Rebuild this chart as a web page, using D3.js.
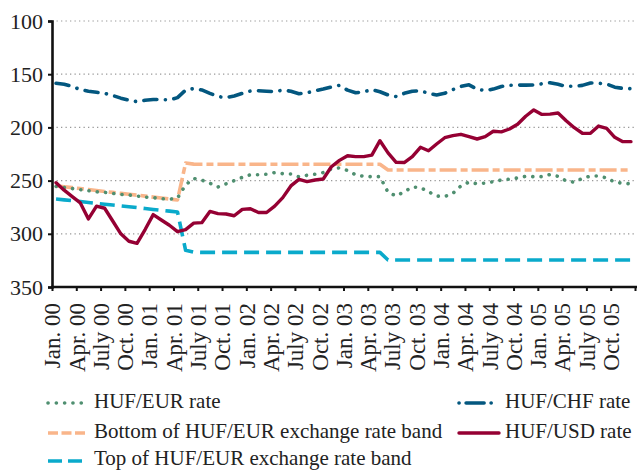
<!DOCTYPE html>
<html>
<head>
<meta charset="utf-8">
<script src="https://cdn.jsdelivr.net/npm/d3@7"></script>
<style>
  html, body { margin: 0; padding: 0; background: #fff; }
  svg { display: block; }
  text { font-family: "Liberation Serif", "Times New Roman", serif; fill: #222; }
</style>
</head>
<body>
<svg id="chart" width="637" height="470"></svg>
<script>
// ---------- DATA (monthly, Jan 2000 – Dec 2005) ----------
const tickLabels = ["Jan. 00","Apr. 00","July 00","Oct. 00","Jan. 01","Apr. 01","July 01","Oct. 01",
  "Jan. 02","Apr. 02","July 02","Oct. 02","Jan. 03","Apr. 03","July 03","Oct. 03",
  "Jan. 04","Apr. 04","July 04","Oct. 04","Jan. 05","Apr. 05","July 05","Oct. 05"];

const hufEur = [255.5,256.5,257.5,258.5,259.5,260.5,261,262,263,263.5,264.5,265.5,266,267,267.5,266.5,
  254,248,249.5,252.5,256,253,250,247,244.5,244.5,244,242.5,243.5,243.8,246.5,245,
  244,242.5,239,238,240.5,244.5,246,246.3,246.3,261,264.5,260.5,256,256.5,260.5,264.5,
  265,262,255,251.5,253,252.3,251,249.5,248.6,247.5,246,246.3,246.3,244.3,246,250.3,
  251.5,248,245.7,245.7,247.5,251.5,252.5,253];

const hufChf = [158.5,159.5,161.5,164.5,166,167,168,170,172.5,174.5,175.8,174.5,173.8,173.8,174.2,172,
  165,163.5,164.8,168,171,172,170.5,168,165.8,165.5,166,166.4,165,166,168.3,167.5,
  165.5,164,162,160.5,165,167.5,166.5,164.5,166.5,169.5,171,168,166,165.5,168,169.5,
  168,164.5,161.5,160,164,165.5,164,161.5,160.5,160.2,160.3,160.2,159,158,159.5,161.5,
  161.3,160.5,158.3,158.5,159.2,162.2,163.3,163.6];

const hufUsd = [252,259,265,271,286,274,276,288,300,307,309,296,282,287,292,298,
  296,290,289.5,279,281,281.4,283,277,276.4,280,280,274,266,255,248.8,251,
  249.4,248.5,237,231,226.6,227.5,227.5,226,212.5,224,232.8,233,227.5,218.7,222,215.6,
  209.7,207.8,206.5,208.7,210.9,208.7,203.6,204.2,201.5,197,189.5,183.6,187.8,187.5,
  186.5,193.7,200.3,205.5,205.6,198.7,200.9,209.3,213.4,213.4];

const bandBottom = [254.8,255.7,256.6,257.5,258.4,259.3,260.2,261.1,262,262.8,263.7,264.6,265.5,266.4,267.3,268.2,
  233.5,234.5,234.6,234.6,234.6,234.6,234.6,234.6,234.6,234.6,234.6,234.6,234.6,234.6,234.6,234.6,
  234.6,234.6,234.6,234.6,234.6,234.6,234.6,234.6,234.6,240,240,240,240,240,240,240,
  240,240,240,240,240,240,240,240,240,240,240,240,240,240,240,240,
  240,240,240,240,240,240,240,240];

const bandTop = [267.3,268.1,268.9,269.7,270.6,271.4,272.2,273,273.8,274.6,275.4,276.3,277.1,277.9,278.7,279.5,
  315.5,317.3,317.5,317.5,317.5,317.5,317.5,317.5,317.5,317.5,317.5,317.5,317.5,317.5,317.5,317.5,
  317.5,317.5,317.5,317.5,317.5,317.5,317.5,317.5,317.5,324.6,324.6,324.6,324.6,324.6,324.6,324.6,
  324.6,324.6,324.6,324.6,324.6,324.6,324.6,324.6,324.6,324.6,324.6,324.6,324.6,324.6,324.6,324.6,
  324.6,324.6,324.6,324.6,324.6,324.6,324.6,324.6];

const yTicks = [100,150,200,250,300,350];

// ---------- STYLES ----------
const styles = {
  eur:    { color: "#4f8f70", width: 3.6, dash: "0.1,8.2", cap: "round" },
  chf:    { color: "#03577f", width: 3.6, dash: "13,8.5,0.1,8.5", cap: "round" },
  bottom: { color: "#f9b58a", width: 3.6, dash: "17,4,7,4", cap: "butt" },
  usd:    { color: "#950033", width: 3.4, dash: null, cap: "round" },
  top:    { color: "#0aaacb", width: 3.6, dash: "15,7", cap: "butt" }
};

const series = [
  { key: "top", values: bandTop },
  { key: "bottom", values: bandBottom },
  { key: "eur", values: hufEur },
  { key: "chf", values: hufChf },
  { key: "usd", values: hufUsd }
];

// ---------- LAYOUT ----------
const svg = d3.select("#chart");
const x0 = 52, x1 = 635, yTop = 21, yBot = 287;
const nMonths = 72;

const x = d3.scaleLinear().domain([0, nMonths]).range([x0, x1]);
const y = d3.scaleLinear().domain([100, 350]).range([yTop, yBot]);

// gridlines
svg.append("g").selectAll("line")
  .data(yTicks.filter(v => v !== 350))
  .join("line")
  .attr("x1", x0).attr("x2", 637)
  .attr("y1", d => y(d)).attr("y2", d => y(d))
  .attr("stroke", "#999").attr("stroke-width", 1.2)
  .attr("stroke-dasharray", "1.3,3.2");

// series lines
const line = d3.line().x((d, i) => x(i + 0.5)).y(d => y(d)).curve(d3.curveLinear);
series.forEach(s => {
  const st = styles[s.key];
  svg.append("path")
    .datum(s.values)
    .attr("d", line)
    .attr("fill", "none")
    .attr("stroke", st.color)
    .attr("stroke-width", st.width)
    .attr("stroke-linecap", st.cap)
    .attr("stroke-linejoin", "round")
    .attr("stroke-dasharray", st.dash);
});

// y axis
const yAxis = d3.axisLeft(y).tickValues(yTicks).tickSize(4).tickPadding(6).tickFormat(d3.format("d"));
const gy = svg.append("g").attr("transform", `translate(${x0},0)`).call(yAxis);
gy.select(".domain").attr("stroke", "#111").attr("stroke-width", 2.6);
gy.selectAll(".tick line").attr("stroke", "#111").attr("stroke-width", 2);
gy.selectAll(".tick text").attr("font-size", 22).attr("font-family", "Liberation Serif, serif")
  .attr("fill", "#222").attr("x", -9);

// x axis
const tickIdx = d3.range(0, nMonths + 1, 3);
const xAxis = d3.axisBottom(x).tickValues(tickIdx).tickSize(4).tickSizeOuter(0)
  .tickFormat((d, i) => tickLabels[i] || "");
const gx = svg.append("g").attr("transform", `translate(0,${yBot})`).call(xAxis);
gx.select(".domain").attr("stroke", "#111").attr("stroke-width", 2.6)
  .attr("d", `M${x0 - 1},0H637`);
gx.selectAll(".tick line").attr("stroke", "#111").attr("stroke-width", 2);
gx.selectAll(".tick text")
  .attr("font-size", 23).attr("font-family", "Liberation Serif, serif").attr("fill", "#222")
  .attr("text-anchor", "end")
  .attr("transform", "rotate(-90)")
  .attr("x", -16).attr("y", 0).attr("dy", "0.34em");

// legend
const legendItems = [
  { key: "eur", label: "HUF/EUR rate", lx: 48, ly: 403 },
  { key: "chf", label: "HUF/CHF rate", lx: 459, ly: 403 },
  { key: "bottom", label: "Bottom of HUF/EUR exchange rate band", lx: 48, ly: 433 },
  { key: "usd", label: "HUF/USD rate", lx: 459, ly: 433 },
  { key: "top", label: "Top of HUF/EUR exchange rate band", lx: 48, ly: 461 }
];
const lg = svg.append("g");
legendItems.forEach(it => {
  const st = styles[it.key];
  lg.append("line")
    .attr("x1", it.lx).attr("x2", it.lx + 40)
    .attr("y1", it.ly).attr("y2", it.ly)
    .attr("stroke", st.color).attr("stroke-width", st.width)
    .attr("stroke-linecap", st.cap)
    .attr("stroke-dasharray", it.key === "bottom" ? "10,3.5" : it.key === "top" ? "14,6" : it.key === "chf" ? "0.1,7,18,7,0.1,10" : st.dash);
  lg.append("text")
    .attr("x", it.lx + 46).attr("y", it.ly + (it.key === "top" ? 3.5 : 4.5))
    .attr("font-size", 21)
    .text(it.label);
});
</script>
</body>
</html>
